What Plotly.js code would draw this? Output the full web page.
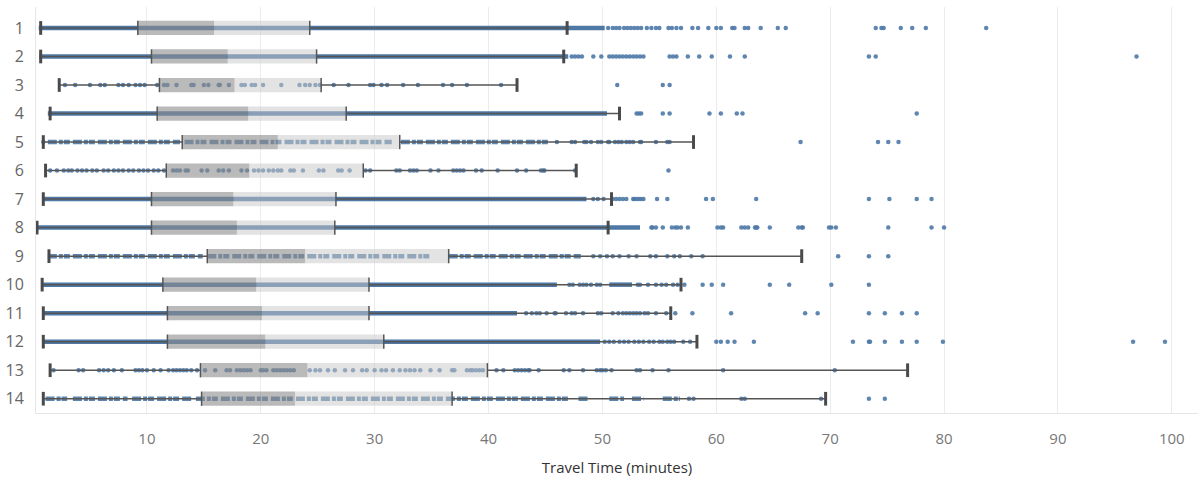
<!DOCTYPE html>
<html>
<head>
<meta charset="utf-8">
<script src="https://cdn.plot.ly/plotly-3.0.1.min.js"></script>
<style>html,body{margin:0;padding:0;background:#fff;}#chart{width:1198px;height:483px;}</style>
</head>
<body>
<div id="chart"></div>
<script>
// ---- data (minutes) ----
const rowLabels = ['1','2','3','4','5','6','7','8','9','10','11','12','13','14'];
const lowerWhisker = [0.67, 0.67, 2.3, 1.5, 0.9, 1.1, 0.9, 0.35, 1.4, 0.8, 0.9, 0.9, 1.5, 0.9];
const q1Values     = [9.2, 10.4, 11.1, 10.9, 13.1, 11.7, 10.4, 10.4, 15.3, 11.4, 11.8, 11.8, 14.7, 14.8];
const medianValues = [15.9, 17.1, 17.7, 18.9, 21.5, 19.0, 17.6, 17.9, 23.9, 19.6, 20.1, 20.4, 24.1, 23.0];
const q3Values     = [24.3, 24.9, 25.3, 27.5, 32.2, 29.0, 26.6, 26.5, 36.5, 29.5, 29.5, 30.8, 39.9, 36.8];
const upperWhisker = [46.9, 46.6, 42.5, 51.5, 58.0, 47.7, 50.8, 50.5, 67.5, 56.9, 56.0, 58.3, 76.8, 69.6];

// stretches where the dots overlap into a solid strip: [from, to]
const denseRuns = [
  [[0.5, 50.2]],
  [[0.55, 47.0]],
  [],
  [[1.3, 50.4]],
  [],
  [],
  [[0.8, 48.6]],
  [[0.3, 53.3]],
  [],
  [[0.8, 46.0], [50.6, 52.6]],
  [[0.9, 42.5]],
  [[0.9, 49.8]],
  [],
  []
];

// stretches where the dots nearly touch (broken, dotted strip): [from, to]
const looseRuns = [
  [], [], [], [],
  [[1.3, 12.9], [13.3, 31.5], [32.3, 45.4]],
  [], [], [],
  [[1.3, 14.9], [15.3, 34.8], [36.5, 48.1]],
  [], [], [], [],
  [[1.1, 3.0], [3.5, 8.3], [8.7, 14.0], [14.3, 47.1], [47.9, 48.8], [50.6, 51.9], [52.6, 53.6], [55.3, 56.8]]
];

// individual trips (dots)
const tripPoints = [
  [50.5, 50.9, 51.2, 51.5, 51.9, 52.2, 52.5, 52.8, 53.1, 53.4, 53.9, 54.3, 54.7, 55.0, 55.8, 56.1, 56.5, 56.9, 57.9, 58.4, 59.3, 60.0, 60.4, 61.4, 61.6, 62.5, 62.8, 63.9, 65.4, 66.1, 74.0, 74.5, 74.7, 76.2, 77.2, 78.4, 83.7],
  [47.3, 47.6, 47.9, 48.2, 49.2, 49.9, 50.6, 50.9, 51.2, 51.5, 51.8, 52.1, 52.4, 52.7, 53.0, 53.3, 53.6, 55.9, 56.2, 56.5, 57.5, 58.5, 59.6, 61.2, 62.5, 73.4, 74.0, 96.9],
  [2.8, 3.7, 5.0, 5.9, 6.3, 7.5, 7.9, 8.4, 9.0, 9.4, 9.8, 10.9, 11.5, 11.8, 12.6, 13.9, 14.1, 15.0, 15.4, 16.3, 16.4, 17.2, 18.3, 18.6, 19.2, 19.5, 20.2, 21.8, 23.4, 23.9, 24.3, 24.8, 25.2, 26.4, 27.7, 29.6, 29.9, 30.6, 31.1, 32.5, 33.8, 36.0, 36.8, 38.1, 41.1, 51.3, 55.3, 55.9],
  [53.0, 53.2, 53.4, 55.3, 55.9, 59.4, 60.4, 61.8, 62.3, 77.6],
  [0.9, 46.0, 47.3, 47.6, 48.4, 48.6, 49.0, 49.6, 49.9, 50.5, 50.6, 51.1, 51.4, 51.7, 52.1, 52.4, 52.7, 53.3, 53.4, 54.7, 55.7, 55.9, 67.4, 74.2, 75.1, 76.0],
  [1.5, 2.1, 2.7, 3.1, 3.4, 3.9, 4.3, 4.7, 5.2, 5.6, 6.2, 6.6, 7.1, 7.5, 7.9, 8.4, 8.8, 9.3, 9.7, 10.1, 10.6, 11.0, 11.5, 12.3, 12.6, 12.9, 13.4, 13.6, 14.8, 15.3, 16.3, 16.7, 17.2, 18.3, 18.8, 19.4, 19.8, 20.2, 20.7, 21.1, 21.5, 21.8, 22.6, 22.9, 23.7, 25.1, 25.5, 26.8, 27.1, 27.8, 29.2, 29.6, 31.9, 32.2, 33.1, 33.4, 33.7, 34.9, 35.6, 36.9, 37.2, 37.5, 37.8, 38.9, 39.4, 40.8, 42.5, 43.3, 44.6, 44.8, 44.9, 47.6, 55.8],
  [49.2, 49.6, 50.1, 50.9, 51.2, 51.5, 51.8, 52.1, 52.7, 52.8, 53.0, 53.2, 53.4, 53.6, 54.8, 55.7, 59.1, 59.7, 63.5, 73.4, 75.2, 77.6, 78.9],
  [54.3, 54.4, 54.7, 55.3, 56.1, 56.4, 56.6, 56.9, 57.5, 60.1, 60.4, 60.6, 62.2, 62.5, 62.8, 63.4, 63.5, 63.6, 64.7, 67.2, 67.5, 67.6, 69.9, 70.1, 70.5, 75.1, 78.9, 80.0],
  [49.2, 49.8, 50.4, 50.9, 51.5, 52.3, 53.0, 54.2, 54.7, 55.7, 56.3, 56.8, 57.8, 58.8, 70.7, 73.4, 75.1],
  [47.1, 47.4, 48.0, 48.3, 48.6, 49.0, 49.5, 49.8, 53.1, 53.3, 54.0, 54.7, 55.2, 55.6, 56.2, 56.6, 57.2, 58.8, 59.6, 60.6, 64.7, 66.4, 70.1, 73.4],
  [43.3, 43.8, 44.2, 44.5, 45.1, 45.8, 45.9, 46.8, 47.3, 47.6, 48.3, 49.6, 49.9, 50.9, 51.4, 51.8, 52.1, 52.4, 52.7, 53.0, 53.3, 53.7, 54.0, 54.7, 55.6, 56.4, 57.9, 61.3, 67.8, 68.9, 73.4, 74.8, 76.3, 77.6],
  [50.2, 50.6, 51.0, 51.5, 51.9, 52.3, 52.8, 53.2, 53.6, 54.1, 54.5, 55.0, 55.3, 55.7, 56.0, 56.3, 57.1, 57.7, 60.0, 60.4, 61.0, 61.6, 63.3, 72.0, 73.4, 73.5, 74.8, 76.3, 77.6, 79.9, 96.6, 99.4],
  [1.8, 4.0, 4.4, 5.8, 6.2, 6.6, 7.1, 7.8, 9.0, 9.3, 9.6, 10.0, 10.6, 11.2, 11.9, 12.3, 12.6, 12.9, 13.2, 13.5, 13.9, 14.4, 15.1, 16.0, 17.0, 17.3, 17.9, 18.2, 18.5, 18.8, 19.1, 20.0, 20.2, 20.5, 21.1, 21.4, 21.7, 22.0, 22.3, 22.6, 22.9, 24.3, 24.8, 25.2, 25.9, 26.5, 27.4, 28.1, 28.9, 29.3, 30.0, 30.6, 31.0, 31.6, 32.2, 32.7, 33.1, 33.5, 34.0, 34.9, 35.7, 36.8, 37.0, 38.1, 38.4, 38.6, 38.9, 39.2, 39.5, 40.7, 41.3, 42.3, 42.6, 42.9, 43.2, 43.5, 43.6, 44.4, 46.6, 47.1, 48.3, 49.5, 49.8, 50.0, 50.3, 50.8, 53.0, 53.3, 54.4, 55.8, 60.6, 70.4],
  [57.6, 58.0, 62.2, 62.5, 69.2, 73.4, 74.8]
];

// ---- styles ----
const DOT = '#4e79a7';
const DARK = '#555555';
const HALF = 0.25;   // half box height (row units)
const CAP = 0.24;

// ---- build traces from data ----
const rowPos = rowLabels.map((_, i) => i + 1);

function runLines(runList) {
  const x = [], y = [];
  runList.forEach((runs, i) => runs.forEach(r => { x.push(r[0], r[1], null); y.push(rowPos[i], rowPos[i], null); }));
  return {x, y};
}
const solid = runLines(denseRuns);
const loose = runLines(looseRuns);

const ptX = [], ptY = [];
tripPoints.forEach((pts, i) => pts.forEach(v => { ptX.push(v); ptY.push(rowPos[i]); }));

function boxPoly(lo, hi) {
  const x = [], y = [];
  rowPos.forEach((r, i) => {
    x.push(lo[i], hi[i], hi[i], lo[i], lo[i], null);
    y.push(r - HALF, r - HALF, r + HALF, r + HALF, r - HALF, null);
  });
  return {x, y};
}
const lowBox = boxPoly(q1Values, medianValues);
const highBox = boxPoly(medianValues, q3Values);

const whX = [], whY = [];
rowPos.forEach((r, i) => {
  whX.push(lowerWhisker[i], q1Values[i], null, q3Values[i], upperWhisker[i], null);
  whY.push(r, r, null, r, r, null);
});
const edgeX = [], edgeY = [];
rowPos.forEach((r, i) => {
  edgeX.push(q1Values[i], q1Values[i], null, q3Values[i], q3Values[i], null);
  edgeY.push(r - HALF, r + HALF, null, r - HALF, r + HALF, null);
});
const capX = [], capY = [];
rowPos.forEach((r, i) => {
  capX.push(lowerWhisker[i], lowerWhisker[i], null, upperWhisker[i], upperWhisker[i], null);
  capY.push(r - CAP, r + CAP, null, r - CAP, r + CAP, null);
});

const traces = [
  {type: 'scatter', mode: 'lines', x: solid.x, y: solid.y, line: {color: DOT, width: 4.5}, hoverinfo: 'skip'},
  {type: 'scatter', mode: 'lines', x: loose.x, y: loose.y, line: {color: DOT, width: 4.5, dash: '9px,2px,4px,1px,6px,3px'}, opacity: 0.9, hoverinfo: 'skip'},
  {type: 'scatter', mode: 'markers', x: ptX, y: ptY, marker: {color: DOT, size: 4.5, opacity: 0.9}, hoverinfo: 'skip'},
  {type: 'scatter', mode: 'lines', x: lowBox.x, y: lowBox.y, fill: 'toself', fillcolor: 'rgba(140,140,140,0.6)', line: {width: 0, color: 'rgba(0,0,0,0)'}, hoverinfo: 'skip'},
  {type: 'scatter', mode: 'lines', x: highBox.x, y: highBox.y, fill: 'toself', fillcolor: 'rgba(200,200,200,0.5)', line: {width: 0, color: 'rgba(0,0,0,0)'}, hoverinfo: 'skip'},
  {type: 'scatter', mode: 'lines', x: whX, y: whY, line: {color: DARK, width: 1.5}, hoverinfo: 'skip'},
  {type: 'scatter', mode: 'lines', x: edgeX, y: edgeY, line: {color: DARK, width: 1.5}, hoverinfo: 'skip'},
  {type: 'scatter', mode: 'lines', x: capX, y: capY, line: {color: '#4a4a4a', width: 3}, hoverinfo: 'skip'}
];

const layout = {
  width: 1198, height: 483,
  margin: {l: 36, r: 0, t: 7, b: 70},
  paper_bgcolor: '#ffffff', plot_bgcolor: '#ffffff',
  showlegend: false,
  font: {family: 'Open Sans, sans-serif', color: '#666'},
  xaxis: {
    range: [0.26, 102.3],
    tickvals: [10, 20, 30, 40, 50, 60, 70, 80, 90, 100],
    showgrid: true, gridcolor: '#ececec', gridwidth: 1,
    zeroline: false, showline: true, linecolor: '#e6e6e6', linewidth: 1,
    ticks: '', ticklabelstandoff: 12,
    tickfont: {size: 15, color: '#777'},
    title: {text: 'Travel Time (minutes)', font: {size: 15, color: '#333'}, standoff: 15}
  },
  yaxis: {
    range: [14.5, 0.265],
    tickvals: rowPos, ticktext: rowLabels,
    showgrid: false, zeroline: false, showline: true, linecolor: '#e6e6e6', linewidth: 1,
    ticks: '', ticklabelstandoff: 8,
    tickfont: {size: 16, color: '#666'}
  }
};

Plotly.newPlot('chart', traces, layout, {staticPlot: true, displayModeBar: false});
</script>
</body>
</html>
